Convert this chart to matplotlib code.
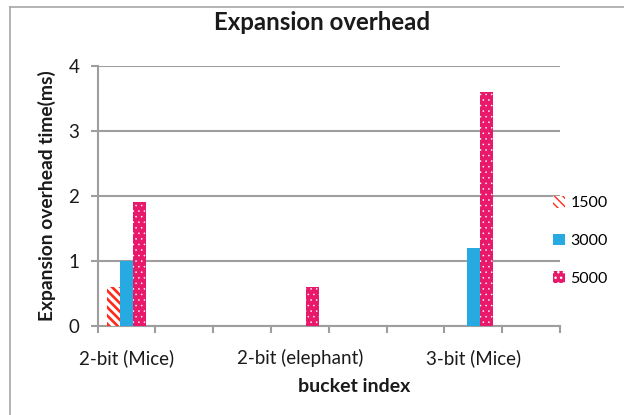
import matplotlib
matplotlib.use("Agg")
import matplotlib.pyplot as plt
from matplotlib.lines import Line2D
import numpy as np

plt.rcParams['font.family'] = ['Lato', 'DejaVu Sans']

# Buckets along the x axis (every third one carries a label)
categories = ['2-bit (Mice)', '', '', '2-bit (elephant)', '', '', '3-bit (Mice)', '']
series_names = ['1500', '3000', '5000']
vals_1500 = [0.6, 0, 0, 0, 0, 0, 0, 0]
vals_3000 = [1.0, 0, 0, 0, 0, 0, 1.2, 0]
vals_5000 = [1.9, 0, 0, 0.6, 0, 0, 3.6, 0]
y_ticks = [0, 1, 2, 3, 4]

fig = plt.figure(figsize=(6.24, 4.15), dpi=100)
ax = fig.add_axes([97.5 / 624, 1 - 325.7 / 415, (560 - 97.5) / 624, (325.7 - 65.7) / 415])

x = np.arange(len(categories))
w = 0.225
styles = [
    (dict(facecolor='white', edgecolor='#FF2A1A', hatch='\\\\\\\\'), 1.9),
    (dict(facecolor='#27A9E1', edgecolor='#27A9E1', hatch=None), 1.0),
    (dict(facecolor='#E8196B', edgecolor='white', hatch='...'), 0.35),
]
handles = []
for i, (vals, (st, hlw)) in enumerate(zip([vals_1500, vals_3000, vals_5000], styles)):
    with plt.rc_context({'hatch.linewidth': hlw}):
        bars = ax.bar(x + (i - 1) * w, vals, width=w, linewidth=0, zorder=3, **st)
    handles.append(bars)

ax.set_xlim(-0.5, len(categories) - 0.5)
ax.set_ylim(0, 4)
ax.set_yticks(y_ticks)
ax.set_xticks(x)
ax.set_xticklabels(categories, fontsize=13.5)
ax.set_xticks(np.arange(len(categories) + 1) - 0.5, minor=True)
ax.tick_params(axis='x', which='major', length=0, pad=17)
ax.tick_params(axis='x', which='minor', length=5, width=1.5, color='#9E9E9E', direction='out')
ax.tick_params(axis='y', length=5, width=1.5, color='#9E9E9E', labelsize=13.5, pad=8)
for lab in ax.get_yticklabels() + ax.get_xticklabels():
    lab.set_color('#1A1A1A')

ax.grid(axis='y', color='#9E9E9E', linewidth=1.5, zorder=0)
ax.set_axisbelow(True)
for s in ['top', 'right']:
    ax.spines[s].set_visible(False)
for s in ['left', 'bottom']:
    ax.spines[s].set_color('#9E9E9E')
    ax.spines[s].set_linewidth(1.5)

ax.set_ylabel('Expansion overhead time(ms)', fontsize=13.9, fontweight='bold', color='#1A1A1A', labelpad=9)
fig.text(322 / 624, 1 - 23 / 415, 'Expansion overhead', fontsize=17.3, fontweight='bold',
         ha='center', va='center', color='#1A1A1A')
fig.text(354 / 624, 1 - 386 / 415, 'bucket index', fontsize=14, fontweight='bold',
         ha='center', va='center', color='#1A1A1A')

fig.legend(handles, series_names, loc='upper left', bbox_to_anchor=(553 / 624, 1 - 196 / 415),
           frameon=False, fontsize=11.5, handlelength=0.75, handleheight=0.75,
           handletextpad=0.35, labelspacing=1.45, borderpad=0, borderaxespad=0)

# outer chart border
fig.add_artist(Line2D([10 / 624, 10 / 624], [0, 1 - 7 / 415], color='#A6A6A6', linewidth=1.2))
fig.add_artist(Line2D([10 / 624, 1], [1 - 7 / 415, 1 - 7 / 415], color='#A6A6A6', linewidth=1.2))

fig.savefig('out.png', dpi=100)
